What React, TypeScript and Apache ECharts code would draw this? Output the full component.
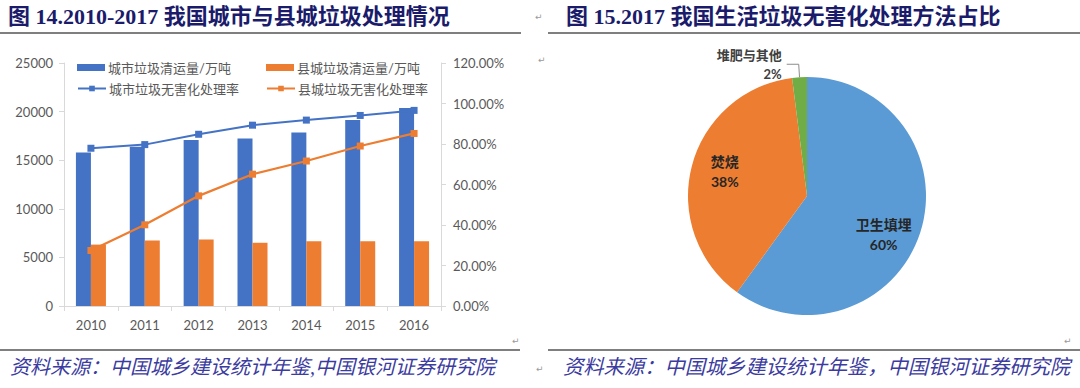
import React, { useEffect, useRef } from "react";
import * as echarts from "echarts";

const years = ["2010", "2011", "2012", "2013", "2014", "2015", "2016"];
const cityVolume = [15805, 16395, 17081, 17239, 17860, 19142, 20362];
const countyVolume = [6317, 6743, 6838, 6505, 6657, 6655, 6666];
const cityRate = [77.9, 79.7, 84.8, 89.3, 91.8, 94.1, 96.6];
const countyRate = [27.4, 40.1, 54.4, 65.1, 71.6, 79.0, 85.2];

const pieNames = ["卫生填埋", "焚烧", "堆肥与其他"];
const pieValues = [60, 38, 2];
const pieColors = ["#5B9BD5", "#ED7D31", "#70AD47"];

const seriesNames = [
  "城市垃圾清运量/万吨",
  "县城垃圾清运量/万吨",
  "城市垃圾无害化处理率",
  "县城垃圾无害化处理率",
];

const leftTitle = "图 14.2010-2017 我国城市与县城垃圾处理情况";
const rightTitle = "图 15.2017 我国生活垃圾无害化处理方法占比";
const leftSource = "资料来源：中国城乡建设统计年鉴,中国银河证券研究院";
const rightSource = "资料来源：中国城乡建设统计年鉴，中国银河证券研究院";

const FONT = "Lato, 'Noto Sans CJK SC', sans-serif";
const TITLE_FONT = "'Liberation Serif', 'Noto Sans CJK SC', serif";

export default function App() {
  const ref = useRef<HTMLDivElement>(null);

  useEffect(() => {
    document.body.style.margin = "0";
    const chart = echarts.init(ref.current!, null, { renderer: "svg" });
    const blue = "#4472C4";
    const orange = "#ED7D31";
    const axisGray = "#D9D9D9";
    const labelGray = "#595959";

    const legendBase = {
      padding: 0,
      itemWidth: 28,
      itemHeight: 7,
      itemGap: 0,
      textStyle: { fontSize: 13, color: labelGray, fontFamily: FONT, padding: [0, 0, 0, -2] },
    };

    const mark = (x: number, y: number) => ({
      type: "text",
      x,
      y,
      style: { text: "↵", fontSize: 9, fill: "#9a9a9a", fontFamily: "DejaVu Sans" },
    });

    const option: any = {
      animation: false,
      textStyle: { fontFamily: FONT },
      legend: [
        { ...legendBase, data: [{ name: seriesNames[0], icon: "rect" }], left: 77, top: 61 },
        { ...legendBase, data: [{ name: seriesNames[1], icon: "rect" }], left: 266, top: 61 },
        { ...legendBase, data: [seriesNames[2]], left: 77, top: 82 },
        { ...legendBase, data: [seriesNames[3]], left: 266, top: 82 },
      ],
      grid: { left: 64, right: 639, top: 63, bottom: 82, containLabel: false },
      xAxis: {
        type: "category",
        data: years,
        axisLine: { lineStyle: { color: axisGray, width: 1 } },
        axisTick: { show: true, alignWithLabel: false, length: 5, lineStyle: { color: axisGray } },
        axisLabel: { color: labelGray, fontSize: 13, margin: 12, fontFamily: FONT },
      },
      yAxis: [
        {
          type: "value",
          min: 0,
          max: 25000,
          interval: 5000,
          axisLine: { show: true, lineStyle: { color: axisGray } },
          axisTick: { show: true, length: 5, lineStyle: { color: axisGray } },
          splitLine: { show: false },
          axisLabel: {
            color: labelGray,
            fontSize: 13,
            margin: 11,
            fontFamily: FONT,
            formatter: (v: number) => String(v),
          },
        },
        {
          type: "value",
          min: 0,
          max: 120,
          interval: 20,
          position: "right",
          axisLine: { show: true, lineStyle: { color: axisGray } },
          axisTick: { show: true, length: 5, lineStyle: { color: axisGray } },
          splitLine: { show: false },
          axisLabel: {
            color: labelGray,
            fontSize: 13,
            margin: 12,
            fontFamily: FONT,
            formatter: (v: number) => v.toFixed(2) + "%",
          },
        },
      ],
      series: [
        {
          name: seriesNames[0],
          type: "bar",
          data: cityVolume,
          barWidth: 15,
          barGap: "0%",
          itemStyle: { color: blue },
        },
        {
          name: seriesNames[1],
          type: "bar",
          data: countyVolume,
          barWidth: 15,
          barGap: "0%",
          itemStyle: { color: orange },
        },
        {
          name: seriesNames[2],
          type: "line",
          yAxisIndex: 1,
          data: cityRate,
          symbol: "rect",
          symbolSize: 7,
          lineStyle: { color: blue, width: 2 },
          itemStyle: { color: blue },
        },
        {
          name: seriesNames[3],
          type: "line",
          yAxisIndex: 1,
          data: countyRate,
          symbol: "rect",
          symbolSize: 7,
          lineStyle: { color: orange, width: 2.25 },
          itemStyle: { color: orange },
        },
        {
          type: "pie",
          center: [807, 196],
          radius: 119,
          startAngle: 90,
          clockwise: true,
          silent: true,
          data: pieNames.map((n, i) => ({
            name: n,
            value: pieValues[i],
            itemStyle: { color: pieColors[i] },
            label:
              i === 2
                ? {
                    show: true,
                    position: "outside",
                    formatter: "{b}\n{c}%",
                    fontSize: 13,
                    fontWeight: "bold",
                    color: "#404040",
                    lineHeight: 19,
                    align: "center",
                    fontFamily: FONT,
                  }
                : { show: false },
            labelLine:
              i === 2
                ? { show: true, length: 13, length2: 12, lineStyle: { color: "#8c8c8c", width: 1 } }
                : { show: false },
          })),
        },
        {
          type: "pie",
          center: [807, 196],
          radius: 172,
          startAngle: 90,
          clockwise: true,
          silent: true,
          itemStyle: { color: "rgba(0,0,0,0)" },
          labelLine: { show: false },
          labelLayout: (p: any) => (p.dataIndex === 0 ? { dx: -8, dy: 11 } : { dx: 4, dy: -2 }),
          data: pieNames.map((n, i) => ({
            name: n,
            value: pieValues[i],
            label:
              i < 2
                ? {
                    show: true,
                    position: "inside",
                    formatter: "{b}\n{c}%",
                    fontSize: 14,
                    fontWeight: "bold",
                    color: "#262626",
                    lineHeight: 20,
                    fontFamily: FONT,
                  }
                : { show: false },
          })),
        },
      ],
      graphic: [
        {
          type: "text",
          x: 8,
          y: 5,
          style: { text: leftTitle, fontSize: 22, fontWeight: "bold", fill: "#1B1B6B", fontFamily: TITLE_FONT },
        },
        {
          type: "text",
          x: 566,
          y: 5,
          style: { text: rightTitle, fontSize: 22, fontWeight: "bold", fill: "#1B1B6B", fontFamily: TITLE_FONT },
        },
        { type: "line", shape: { x1: 0, y1: 33, x2: 521, y2: 33 }, style: { stroke: "#7f7f7f", lineWidth: 2 } },
        { type: "line", shape: { x1: 548, y1: 33, x2: 1080, y2: 33 }, style: { stroke: "#7f7f7f", lineWidth: 2 } },
        { type: "line", shape: { x1: 0, y1: 350, x2: 520, y2: 350 }, style: { stroke: "#7f7f7f", lineWidth: 2 } },
        { type: "line", shape: { x1: 548, y1: 350, x2: 1080, y2: 350 }, style: { stroke: "#7f7f7f", lineWidth: 2 } },
        {
          type: "text",
          x: 10,
          y: 357,
          style: { text: leftSource, fontSize: 20, fontStyle: "italic", fill: "#3B3BA0", fontFamily: TITLE_FONT },
        },
        {
          type: "text",
          x: 563,
          y: 357,
          style: { text: rightSource, fontSize: 20.3, fontStyle: "italic", fill: "#3B3BA0", fontFamily: TITLE_FONT },
        },
        mark(535, 12),
        mark(538, 55),
        mark(512, 336),
        mark(1064, 336),
        mark(536, 364),
      ],
    };

    chart.setOption(option);
    return () => chart.dispose();
  }, []);

  return <div ref={ref} style={{ width: 1080, height: 388 }} />;
}
